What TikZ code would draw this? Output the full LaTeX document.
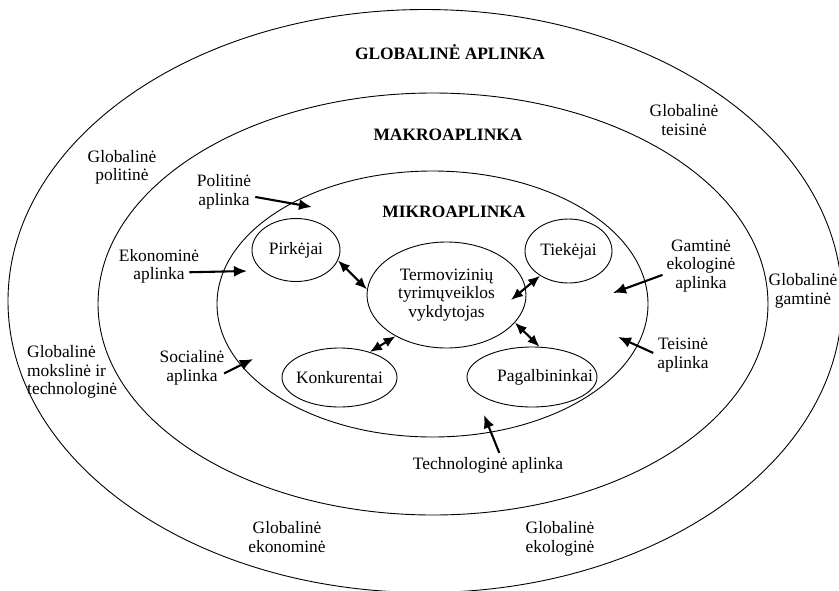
\documentclass[tikz,border=0pt]{standalone}
\usepackage{fontspec}
\setmainfont{Liberation Serif}
\usetikzlibrary{shapes.geometric, arrows.meta}
\tikzstyle{ring} = [ellipse, draw=black, line width=0.9pt, inner sep=0pt]
\tikzstyle{actor} = [ellipse, draw=black, line width=0.9pt, inner sep=0pt]
\tikzstyle{txt} = [align=center, inner sep=4pt]
\tikzstyle{title} = [font=\fontsize{17.4}{18.5}\selectfont\bfseries]
\tikzstyle{arrow} = [line width=2.1pt,-{Latex[length=13pt,width=11pt]}]
\tikzstyle{darrow} = [line width=2.1pt,{Latex[length=12pt,width=10pt]}-{Latex[length=12pt,width=10pt]}]

\begin{document}
\begin{tikzpicture}[x=1pt, y=-1pt, font=\fontsize{17.4}{18.5}\selectfont]
\useasboundingbox (0,0) rectangle (839,590);

% environment rings
\node (globe) [ring, minimum width=834pt, minimum height=583pt] at (425,301) {};
\node (makro) [ring, minimum width=670pt, minimum height=422pt] at (433,304) {};
\node (mikro) [ring, minimum width=431pt, minimum height=266pt] at (432.5,304) {};

\node (globeT) [title] at (450,52) {GLOBALINĖ APLINKA};
\node (makroT) [title] at (448,135) {MAKROAPLINKA};
\node (mikroT) [title] at (454,212) {MIKROAPLINKA};

% actors
\node (centre) [actor, minimum width=159pt, minimum height=106pt, align=center] at (446.5,295) {Termovizinių\\tyrimųveiklos\\vykdytojas};
\node (pirk) [actor, minimum width=88pt, minimum height=63pt] at (296,250) {Pirkėjai};
\node (tiek) [actor, minimum width=87pt, minimum height=64pt] at (568.5,251) {Tiekėjai};
\node (konk) [actor, minimum width=115pt, minimum height=59pt] at (339.5,377.5) {\makebox[0pt]{Konkurentai}};
\node (pagal) [actor, minimum width=130pt, minimum height=60pt] at (532,377) {\makebox[0pt]{\hspace{26pt}Pagalbininkai}};

% global factors
\node (gpolit) [txt] at (122,167.5) {Globalinė\\politinė};
\node (gteis) [txt] at (684,120) {Globalinė\\teisinė};
\node (ggamt) [txt] at (803,291) {Globalinė\\gamtinė};
\node (gmoksl) [txt, align=left, anchor=west] at (23,372) {Globalinė\\mokslinė ir\\technologinė};
\node (gekon) [txt] at (287,537) {Globalinė\\ekonominė};
\node (gekol) [txt] at (560,539) {Globalinė\\ekologinė};

% macro factors
\node (polit) [txt] at (224,192) {Politinė\\aplinka};
\node (ekon) [txt] at (159,266.5) {Ekonominė\\aplinka};
\node (soc) [txt] at (192,368) {Socialinė\\aplinka};
\node (gamt) [txt] at (701,266) {Gamtinė\\ekologinė\\aplinka};
\node (teis) [txt] at (683,355) {Teisinė\\aplinka};
\node (techn) [txt] at (488,465) {Technologinė aplinka};

\coordinate (politT) at (312,207);
\coordinate (ekonT) at (247,271);
\coordinate (socT) at (253,359);
\coordinate (gamtT) at (613,293);
\coordinate (teisT) at (618,337);
\coordinate (technT) at (484,415);
\coordinate (tiekT) at (511,300);

\draw [arrow] (polit.-9) -- (politT);
\draw [arrow, shorten <=-14pt] (ekon.-7) -- (ekonT);
\draw [arrow, shorten <=-5pt] (soc.-5) -- (socT);
\draw [arrow] (gamt.193) -- (gamtT);
\draw [arrow] (teis.176) -- (teisT);
\draw [arrow] (techn.47) -- (technT);

\draw [darrow] (pirk.-14) -- (centre.176);
\draw [darrow] (tiek.221) -- (tiekT);
\draw [darrow] (konk.40) -- (centre.219);
\draw [darrow] (pagal.76) -- (centre.-22);

\end{tikzpicture}
\end{document}
